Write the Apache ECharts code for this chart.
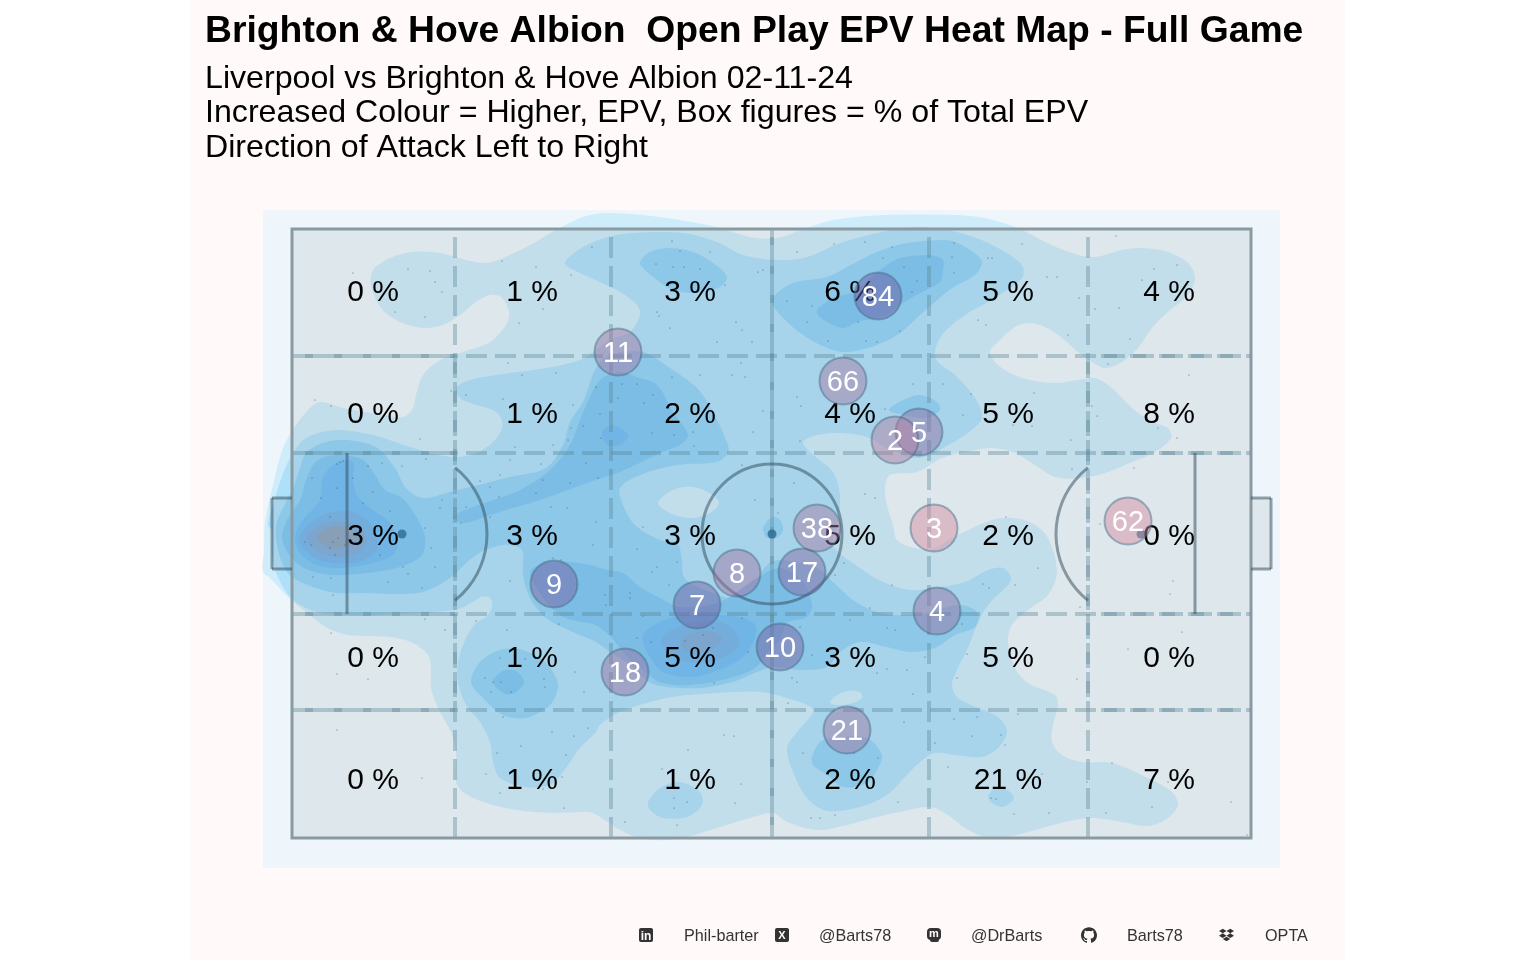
<!DOCTYPE html>
<html>
<head>
<meta charset="utf-8">
<script src="https://cdn.jsdelivr.net/npm/echarts@6/dist/echarts.min.js"></script>
<style>html,body{margin:0;padding:0;background:#fff}#c{width:1536px;height:960px}</style>
</head>
<body>
<div id="c"></div>
<script>
// ---- text ----
const titleText = "Brighton & Hove Albion  Open Play EPV Heat Map - Full Game";
const subtitleLines = ["Liverpool vs Brighton & Hove Albion 02-11-24",
  "Increased Colour = Higher, EPV, Box figures = % of Total EPV",
  "Direction of Attack Left to Right"];
const footerTexts = ["Phil-barter", "@Barts78", "@DrBarts", "Barts78", "OPTA"];

// ---- zone share of EPV (rows top to bottom, columns left to right) ----
const zoneColumns = [81, 240, 398, 558, 716, 877];
const zoneRows = [547, 425, 303, 181, 59];
const zoneShare = [
  [0, 1, 3, 6, 5, 4],
  [0, 1, 2, 4, 5, 8],
  [3, 3, 3, 5, 2, 0],
  [0, 1, 5, 3, 5, 0],
  [0, 1, 1, 2, 21, 7]
];

// ---- players: x, y, colour value, shirt number ----
const players = [
  [586,542,1.00,"84"],[326,486,0.50,"11"],[551,457,0.45,"66"],[627,406,0.65,"5"],
  [603,398,0.35,"2"],[525,310,0.45,"38"],[642,310,0.03,"3"],[836,317,0.03,"62"],
  [262,254,0.88,"9"],[445,265,0.50,"8"],[510,266,0.75,"17"],[405,233,0.95,"7"],
  [645,227,0.62,"4"],[488,191,0.90,"10"],[333,166,0.58,"18"],[555,108,0.52,"21"]
];

// ---- pitch features ----
const pitchLength = 959, pitchWidth = 609;
const vLines = [163, 319, 480, 637, 796];
const hLines = [128, 224, 385, 482];
const spots = [[110,304],[480,304],[849,304]];

// ---- density contours, lowest band first ----
const band1 = [[-27,316],[-19,353],[-9,390],[4,413],[21,433],[31,436],[51,430],[81,425],[111,421],[121,430],[124,443],[131,463],[148,478],[171,486],[198,496],[214,513],[217,526],[209,541],[198,543],[184,536],[168,523],[151,513],[131,510],[108,516],[89,530],[79,553],[81,568],[98,580],[121,586],[148,585],[174,578],[194,575],[211,580],[238,593],[264,608],[291,621],[316,625],[368,621],[425,611],[458,601],[485,600],[515,610],[541,618],[591,623],[663,623],[693,620],[726,610],[753,596],[783,584],[803,581],[830,588],[850,590],[876,586],[896,575],[903,560],[896,543],[876,526],[860,510],[846,490],[830,476],[813,470],[800,476],[786,486],[770,500],[753,511],[738,515],[723,511],[706,496],[698,486],[706,473],[730,460],[763,455],[786,458],[803,460],[820,450],[840,430],[860,416],[876,410],[879,400],[863,386],[840,376],[816,366],[790,360],[763,361],[743,373],[723,385],[700,390],[673,386],[650,380],[625,366],[598,363],[593,350],[595,333],[601,313],[605,298],[623,290],[643,290],[656,298],[676,308],[700,318],[720,320],[740,315],[756,300],[765,266],[756,243],[736,228],[720,213],[716,196],[723,170],[736,155],[763,143],[766,133],[761,113],[760,96],[770,83],[790,76],[820,75],[856,60],[880,46],[886,33],[876,20],[856,12],[830,16],[800,20],[773,16],[743,8],[713,1],[693,1],[673,10],[656,23],[638,31],[608,26],[581,20],[555,13],[525,8],[495,16],[481,25],[458,20],[425,10],[385,-1],[351,-1],[328,8],[308,21],[298,26],[264,25],[224,28],[191,36],[171,46],[164,56],[164,86],[159,106],[148,126],[139,150],[139,170],[136,183],[121,195],[98,201],[71,202],[51,204],[34,211],[14,226],[-6,243],[-22,260],[-29,266],[-28,288]];
const band2 = [[-24,313],[-19,333],[-12,356],[-2,380],[14,400],[44,408],[81,403],[118,391],[138,385],[164,381],[184,385],[201,396],[210,410],[209,420],[201,428],[184,433],[168,440],[164,450],[178,458],[204,463],[254,470],[288,478],[304,488],[318,498],[338,506],[348,523],[345,533],[328,546],[308,556],[288,565],[273,575],[291,591],[316,601],[341,605],[391,605],[425,596],[451,583],[485,578],[515,581],[548,595],[585,605],[620,611],[643,610],[676,603],[706,590],[730,573],[730,560],[703,540],[673,523],[650,503],[643,486],[646,476],[663,463],[683,440],[690,420],[673,403],[651,390],[643,385],[623,380],[598,388],[575,401],[548,405],[525,403],[511,396],[518,386],[525,380],[541,366],[548,343],[546,318],[541,293],[568,270],[591,256],[618,248],[641,250],[673,256],[696,268],[711,270],[719,261],[716,253],[696,233],[685,213],[676,190],[666,170],[660,153],[666,140],[686,130],[706,121],[715,106],[706,90],[690,81],[663,83],[643,85],[628,76],[615,63],[595,43],[568,31],[535,27],[515,40],[501,66],[495,90],[505,106],[521,128],[495,140],[468,146],[425,145],[375,140],[328,126],[308,113],[304,106],[288,90],[271,66],[258,53],[234,51],[208,60],[201,76],[198,96],[188,116],[174,133],[166,156],[166,176],[174,200],[184,215],[194,221],[200,231],[198,240],[189,241],[181,236],[163,228],[88,223],[51,223],[21,227],[-1,240],[-15,263],[-20,283],[-20,308]];
const band1HoleCentre = [[366,335],[381,348],[401,351],[421,343],[427,335],[418,325],[398,320],[378,325]];
const band1HoleLower = [[538,136],[551,146],[568,146],[570,140],[561,135],[545,133]];
const band2BlobLower = [[356,36],[368,50],[388,56],[408,46],[410,33],[395,21],[371,20],[358,28]];
const band2BlobRight = [[696,41],[703,50],[715,48],[722,40],[711,31],[700,35]];
const band3 = [[-16,313],[-9,330],[1,350],[8,370],[14,385],[31,395],[54,398],[84,391],[103,370],[114,350],[131,340],[158,346],[218,361],[254,370],[271,393],[278,416],[291,436],[304,470],[318,483],[351,486],[378,470],[405,450],[421,426],[436,393],[436,385],[425,376],[385,373],[348,363],[328,350],[331,333],[343,313],[368,298],[385,295],[390,278],[391,263],[398,255],[421,245],[441,240],[461,253],[475,273],[488,278],[525,270],[541,256],[561,238],[585,226],[621,223],[668,233],[686,225],[683,211],[663,203],[643,190],[618,186],[595,191],[568,196],[548,186],[535,171],[508,168],[481,171],[465,166],[441,156],[408,150],[375,151],[357,156],[338,173],[318,186],[304,196],[281,206],[254,220],[238,240],[231,263],[231,285],[228,290],[211,293],[184,283],[158,260],[131,246],[104,244],[71,245],[38,246],[1,260],[-9,273],[-15,293]];
const band3Lower = [[179,156],[188,176],[208,188],[231,188],[254,175],[266,153],[258,133],[234,120],[211,123],[191,140]];
const band3Top = [[348,576],[358,586],[378,590],[401,586],[421,575],[435,561],[428,551],[405,545],[381,548],[365,558],[351,570]];
const band3TopRight = [[481,541],[501,555],[535,561],[555,571],[585,586],[615,595],[653,598],[666,595],[685,583],[690,575],[683,563],[660,550],[643,536],[628,523],[608,505],[585,493],[555,486],[535,490],[511,503],[491,520],[481,533]];
const band3Spot = [[471,310],[480,321],[488,318],[491,308],[485,300],[475,300]];
const band3Five = [[597,428],[611,438],[628,443],[645,436],[648,428],[635,420],[611,423]];
const band3Bottom = [[520,81],[528,96],[541,100],[575,100],[590,83],[586,70],[575,55],[551,51],[535,63],[521,73]];
const band4Lower = [[201,156],[211,167],[224,167],[232,156],[224,146],[213,144]];
const band4TopRight = [[525,528],[541,540],[561,546],[588,568],[608,580],[638,583],[651,578],[651,568],[648,556],[628,545],[608,533],[595,523],[565,516],[551,510],[535,516],[526,523]];
const band4Box = [[-10,301],[-4,320],[8,338],[15,361],[26,378],[48,383],[71,378],[83,363],[93,348],[110,340],[125,320],[133,301],[130,283],[108,271],[75,265],[38,263],[10,271],[-4,285]];
const band4Wedge = [[160,320],[173,328],[201,338],[228,348],[258,368],[278,393],[290,423],[308,458],[328,466],[348,460],[365,453],[381,426],[396,403],[388,393],[368,385],[328,366],[298,356],[248,338],[198,323],[173,315]];
const band4Middle = [[238,266],[254,275],[288,275],[316,268],[331,265],[348,251],[368,240],[388,231],[428,236],[465,260],[488,270],[511,256],[520,233],[515,221],[495,215],[488,198],[478,188],[463,170],[438,160],[398,153],[368,156],[348,170],[333,183],[320,200],[303,213],[273,220],[253,238]];
const band5Spot = [[310,406],[321,413],[336,403],[328,393],[315,393]];
const band5Box = [[3,301],[11,318],[28,338],[31,361],[46,376],[61,376],[61,358],[66,341],[81,328],[98,315],[106,298],[101,283],[81,275],[51,270],[25,273],[8,285]];
const band5Middle = [[351,203],[368,216],[391,223],[425,223],[451,220],[463,213],[463,200],[451,181],[431,170],[401,161],[371,166],[355,186]];
const band6Box = [[7,298],[18,315],[40,326],[61,326],[78,315],[86,298],[83,285],[65,276],[41,275],[21,281]];
const band6Middle = [[369,196],[380,208],[405,216],[431,215],[446,203],[445,190],[425,178],[405,175],[381,181]];
const band7Box = [[15,300],[28,313],[48,316],[65,313],[75,300],[68,286],[48,281],[26,286]];
const band7Middle = [[389,196],[398,204],[418,207],[430,200],[421,190],[405,185],[393,188]];
const band8Box = [[25,300],[36,310],[53,311],[65,303],[63,295],[51,290],[36,291]];

// ---- individual events ----
const events = [[61,565],[116,569],[138,567],[143,556],[150,546],[103,526],[133,521],[251,529],[227,515],[210,577],[244,571],[300,591],[279,563],[216,475],[230,463],[264,465],[174,443],[211,439],[159,447],[23,438],[39,432],[281,433],[304,451],[308,424],[279,410],[291,412],[128,399],[223,391],[261,393],[276,398],[309,400],[218,378],[134,379],[90,375],[110,372],[76,372],[249,374],[294,375],[306,360],[188,357],[208,363],[251,358],[278,355],[61,360],[20,360],[45,350],[81,346],[29,340],[71,335],[98,327],[150,338],[198,351],[207,341],[244,345],[259,331],[275,330],[174,331],[169,315],[198,321],[304,316],[48,376],[51,377],[45,374],[133,310],[148,330],[38,321],
[13,296],[19,293],[38,290],[43,283],[41,296],[46,300],[53,293],[88,283],[111,271],[116,264],[143,271],[130,250],[96,256],[39,260],[21,261],[41,243],[139,290],[261,280],[269,278],[301,293],[314,233],[218,257],[133,219],[153,208],[184,217],[215,208],[39,205],[267,214],[208,180],[233,179],[283,166],[292,146],[193,160],[209,156],[201,156],[199,146],[219,146],[252,159],[253,151],[211,121],[260,106],[282,102],[296,110],[229,92],[205,85],[274,83],[194,64],[270,61],[251,49],[208,45],[272,30],[130,60],[45,164],[76,159],[45,108],
[380,597],[388,587],[418,586],[364,574],[381,571],[392,571],[408,569],[466,566],[471,568],[433,553],[365,526],[367,522],[444,516],[450,508],[378,510],[460,496],[425,496],[505,586],[542,594],[573,596],[600,591],[591,580],[612,571],[625,557],[620,546],[515,516],[520,532],[495,537],[566,516],[608,507],[574,497],[536,497],[585,496],[380,461],[408,463],[440,463],[453,461],[449,475],[345,454],[330,454],[361,443],[326,440],[352,435],[621,454],[505,441],[509,432],[471,427],[593,429],[382,403],[401,406],[360,405],[461,406],[508,397],[402,392],[450,373],[502,355],[573,344],[583,340],[463,338],[351,311],[486,325],
[365,271],[385,276],[360,266],[345,289],[338,245],[338,240],[313,243],[377,253],[351,222],[345,200],[359,196],[393,197],[421,210],[411,203],[450,220],[456,186],[508,211],[520,183],[558,218],[595,210],[603,208],[633,181],[595,169],[615,168],[585,165],[600,253],[552,275],[543,263],[578,230],[500,160],[505,156],[422,155],[496,135],[432,103],[442,102],[396,88],[511,85],[586,80],[562,85],[612,116],[643,95],[449,54],[370,69],[382,40],[395,36],[382,30],[443,35],[606,36],[519,20],[528,20],[543,23],[333,16],[385,13],[621,144],
[824,602],[662,595],[730,594],[660,581],[662,565],[696,580],[700,580],[755,561],[765,561],[787,540],[862,569],[885,573],[850,558],[803,529],[827,530],[686,518],[694,513],[776,503],[838,499],[816,474],[897,463],[651,454],[679,444],[742,445],[671,423],[800,432],[805,422],[721,413],[740,412],[866,410],[885,400],[779,398],[780,369],[842,370],[714,321],[808,314],
[746,270],[723,253],[691,254],[697,250],[881,257],[878,244],[788,231],[670,214],[890,206],[836,189],[675,184],[785,159],[665,160],[662,119],[685,121],[726,124],[680,102],[709,103],[713,93],[656,71],[820,75],[750,64],[876,56],[795,56],[699,40],[704,39],[939,36],[860,31],[722,24],[757,25],[814,25],[955,3]];

// ---- styling ----
const bandColors = ['#cfecfb','#aee0fa','#91d2f7','#7cc5f5','#6ebcf4','#73b3e8','#7caad8','#8aa2bf','#8b99b4'];
const contourStack = [
  [1,band1],[2,band2],[1,band1HoleCentre],[1,band1HoleLower],[2,band2BlobLower],[2,band2BlobRight],
  [3,band3],[3,band3Lower],[3,band3Top],[3,band3TopRight],[3,band3Spot],[3,band3Five],[3,band3Bottom],
  [4,band4Lower],[4,band4TopRight],[4,band4Box],[4,band4Wedge],[4,band4Middle],
  [5,band5Spot],[5,band5Box],[5,band5Middle],
  [6,band6Box],[6,band6Middle],[7,band7Box],[7,band7Middle],[8,band8Box]
];
const lineDark = 'rgba(45,72,88,0.5)';
const gridDash = 'rgba(90,135,150,0.38)';
const dashA = [21,8], dashB = [16,13];

const gridSegments = [];
vLines.forEach(x => gridSegments.push([x,0,x,pitchWidth,0]));
hLines.forEach(y => gridSegments.push([0,y,pitchLength,y,0]));
hLines.forEach(y => { gridSegments.push([0,y,163,y,1]); gridSegments.push([796,y,pitchLength,y,1]); });
[163,796].forEach(x => gridSegments.push([x,128,x,482,1]));
gridSegments.push([480,0,480,pitchWidth,1]);

const pctData = [];
zoneRows.forEach((y,r) => zoneColumns.forEach((x,c) => pctData.push([x,y,zoneShare[r][c]])));

function customSeries(items, z, render){
  return {type:'custom', coordinateSystem:'cartesian2d', z:z, silent:true, clip:false,
    data: items.map(()=>[0,0]), encode:{x:0,y:1}, renderItem:(p,api)=>render(items[p.dataIndex],api)};
}
const stroke = (c,w)=>({fill:'none',stroke:c,lineWidth:w});

const githubPath = 'M8 0C3.58 0 0 3.58 0 8c0 3.54 2.29 6.53 5.47 7.59.4.07.55-.17.55-.38 0-.19-.01-.82-.01-1.49-2.01.37-2.53-.49-2.69-.94-.09-.23-.48-.94-.82-1.13-.28-.15-.68-.52-.01-.53.63-.01 1.08.58 1.23.82.72 1.21 1.87.87 2.33.66.07-.52.28-.87.51-1.07-1.78-.2-3.64-.89-3.64-3.95 0-.87.31-1.59.82-2.15-.08-.2-.36-1.02.08-2.12 0 0 .67-.21 2.2.82.64-.18 1.32-.27 2-.27.68 0 1.36.09 2 .27 1.53-1.04 2.2-.82 2.2-.82.44 1.1.16 1.92.08 2.12.51.56.82 1.27.82 2.15 0 3.07-1.87 3.75-3.65 3.95.29.25.54.73.54 1.48 0 1.07-.01 1.93-.01 2.2 0 .21.15.46.55.38C13.71 14.53 16 11.54 16 8c0-4.42-3.58-8-8-8z';
const dropboxPath = 'M4 1L8 3.5L4 6L0 3.5ZM12 1L16 3.5L12 6L8 3.5ZM4 6L8 8.5L4 11L0 8.5ZM12 6L16 8.5L12 11L8 8.5ZM8 9.5L12 12L8 14.5L4 12Z';
const iconPaths = [[githubPath,1081,927,16,16],[dropboxPath,1219,928,15,14]];

const option = {
  animation:false,
  backgroundColor:'#fff',
  grid:{left:263,top:210,width:1017,height:658,show:true,backgroundColor:'#EEF6FC',borderWidth:0},
  xAxis:{type:'value',min:-29,max:988,show:false},
  yAxis:{type:'value',min:-30,max:628,show:false},
  visualMap:{show:false,type:'continuous',seriesIndex:8,dimension:2,min:0,max:1,
    inRange:{color:['#D88CA0','#6A58A0']}},
  graphic:{elements:[
    {type:'rect',z:-100,silent:true,shape:{x:190,y:0,width:1155,height:960},style:{fill:'#FFF9F9'}},
    {type:'text',x:205,y:32,z:10,style:{text:titleText,font:'bold 37.3px "Liberation Sans"',fill:'#000',verticalAlign:'middle'}},
    ...subtitleLines.map((t,i)=>({type:'text',x:205,y:79+i*34.5,z:10,style:{text:t,font:'32.15px "Liberation Sans"',fill:'#000',verticalAlign:'middle'}})),
    ...footerTexts.map((t,i)=>({type:'text',x:[684,819,971,1127,1265][i],y:937,z:10,style:{text:t,font:'16.2px "Liberation Sans"',fill:'#333',verticalAlign:'middle'}})),
    {type:'rect',z:10,shape:{x:639,y:928,width:14,height:14,r:2},style:{fill:'#333'}},
    {type:'text',x:646,y:937,z:11,style:{text:'in',font:'bold 12px "Liberation Sans"',fill:'#fff',align:'center',verticalAlign:'middle'}},
    {type:'rect',z:10,shape:{x:775,y:928,width:14,height:14,r:2},style:{fill:'#333'}},
    {type:'text',x:782,y:936,z:11,style:{text:'X',font:'bold 11px "Liberation Sans"',fill:'#fff',align:'center',verticalAlign:'middle'}},
    {type:'rect',z:10,shape:{x:927,y:928,width:14,height:12,r:4},style:{fill:'#333'}},
    {type:'rect',z:10,shape:{x:930,y:938,width:9,height:4,r:2},style:{fill:'#333'}},
    {type:'text',x:934,y:934,z:11,style:{text:'m',font:'bold 11px "Liberation Sans"',fill:'#fff',align:'center',verticalAlign:'middle'}}
  ]},
  series:[
    // 0 contours
    customSeries(contourStack,1,(s,api)=>({type:'polygon',
      shape:{points:s[1].map(p=>api.coord(p)),smooth:0.32},style:{fill:bandColors[s[0]-1]}})),
    // 1 events
    {type:'scatter',z:2,silent:true,symbolSize:1.1,data:events,itemStyle:{color:'#14304a',opacity:0.8}},
    // 2 pitch wash (pitch and both goals)
    customSeries([[0,0,pitchLength,pitchWidth],[-20,269,0,340],[959,269,979,340]],3,(r,api)=>{
      const a=api.coord([r[0],r[3]]),b=api.coord([r[2],r[1]]);
      return {type:'rect',shape:{x:a[0],y:a[1],width:b[0]-a[0],height:b[1]-a[1]},style:{fill:'rgba(130,140,140,0.14)'}};
    }),
    // 3 zone grid
    customSeries(gridSegments,4,(s,api)=>{
      const a=api.coord([s[0],s[1]]),b=api.coord([s[2],s[3]]);
      return {type:'line',shape:{x1:a[0],y1:a[1],x2:b[0],y2:b[1]},
        style:{stroke:gridDash,lineWidth:4,lineDash:s[4]?dashB:dashA,lineDashOffset:s[4]?16:0}};
    }),
    // 4 straight pitch markings
    customSeries([[0,0,pitchLength,pitchWidth]],5,(r,api)=>{
      const a=api.coord([r[0],r[3]]),b=api.coord([r[2],r[1]]);
      return {type:'rect',shape:{x:a[0],y:a[1],width:b[0]-a[0],height:b[1]-a[1]},style:{fill:'none',stroke:'#8A9AA1',lineWidth:3}};
    }),
    customSeries([[55,224,55,385],[903,224,903,385],[-20,269,0,269],[-20,340,0,340],[-20,269,-20,340],[979,269,959,269],[979,340,959,340],[979,269,979,340]],5,(s,api)=>{
      const a=api.coord([s[0],s[1]]),b=api.coord([s[2],s[3]]);
      return {type:'line',shape:{x1:a[0],y1:a[1],x2:b[0],y2:b[1]},style:stroke(lineDark,3)};
    }),
    // 6 circles and spots
    customSeries([[480,304,70,0,6.2832],[110,304,85,-0.897,0.897],[849,304,85,2.245,4.038]],5,(s,api)=>{
      const c=api.coord([s[0],s[1]]);const r=api.size([s[2],0])[0];
      return {type:'arc',shape:{cx:c[0],cy:c[1],r:r,startAngle:s[3],endAngle:s[4],clockwise:true},style:stroke(lineDark,3)};
    }),
    {type:'scatter',z:5,silent:true,symbolSize:9,data:spots,itemStyle:{color:'#2a6a95'}},
    // 8 players
    {type:'scatter',z:7,silent:true,symbolSize:47,data:players,
      itemStyle:{opacity:0.46,borderColor:'#3f6a82',borderWidth:2},
      label:{show:true,position:'inside',offset:[0,2],opacity:1,color:'#fff',fontFamily:'"Liberation Sans"',fontSize:29,
        formatter:p=>p.data[3]}},
    // 9 zone labels
    {type:'scatter',z:6,silent:true,symbolSize:1,data:pctData,itemStyle:{color:'rgba(0,0,0,0)'},
      label:{show:true,position:'inside',offset:[0,2],opacity:1,color:'#000',fontFamily:'"Liberation Sans"',fontSize:30,
        formatter:p=>p.data[2]+' %'}},
    // 10 footer icons
    {type:'custom',coordinateSystem:'none',z:10,silent:true,data:iconPaths.map((d,i)=>[i]),
      renderItem:(p)=>{const d=iconPaths[p.dataIndex];
        return {type:'path',shape:{pathData:d[0],x:d[1],y:d[2],width:d[3],height:d[4]},style:{fill:'#333'}};}}
  ]
};
const chart = echarts.init(document.getElementById('c'),null,{renderer:'canvas'});
chart.setOption(option);
</script>
</body>
</html>
